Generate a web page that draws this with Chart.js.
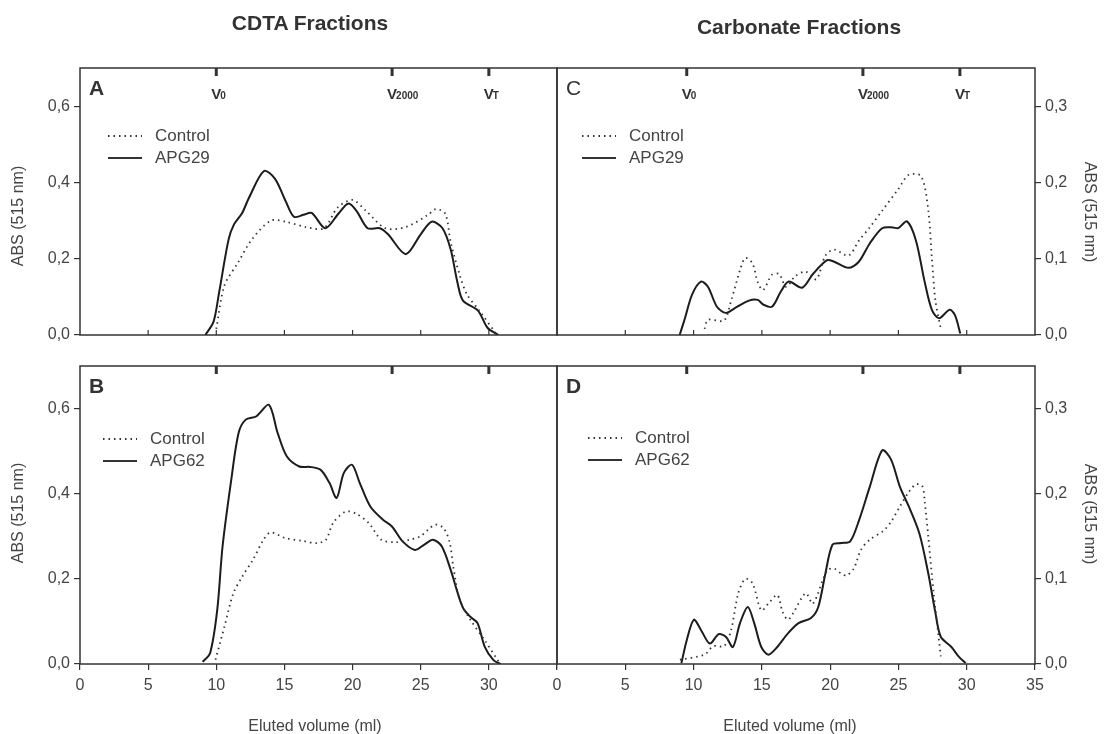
<!DOCTYPE html>
<html>
<head>
<meta charset="utf-8">
<script src="https://cdn.jsdelivr.net/npm/chart.js@4.4.1/dist/chart.umd.min.js"></script>
<style>
  body { margin: 0; background: #fff; }
  #wrap { position: relative; width: 1106px; height: 734px; overflow: hidden; font-family: "Liberation Sans", Arial, sans-serif; }
  #wrap canvas { position: absolute; left: 0; top: 0; }
  .txt { position: absolute; white-space: nowrap; color: #444; transform: translate(-50%, -50%); }
  .ttl { font-weight: bold; font-size: 21px; color: #333; }
  .ax { font-size: 16px; }
  .rl { transform: translate(-50%, -50%) rotate(-90deg); }
  .rr { transform: translate(-50%, -50%) rotate(90deg); }
</style>
</head>
<body>
<div id="wrap">
  <canvas id="cA" width="1106" height="734"></canvas>
  <canvas id="cB" width="1106" height="734"></canvas>
  <canvas id="cC" width="1106" height="734"></canvas>
  <canvas id="cD" width="1106" height="734"></canvas>
  <div class="txt ttl" style="left:310px;top:23px">CDTA Fractions</div>
  <div class="txt ttl" style="left:799px;top:27px">Carbonate Fractions</div>
  <div class="txt ax rl" style="left:18px;top:216px">ABS (515 nm)</div>
  <div class="txt ax rl" style="left:18px;top:513px">ABS (515 nm)</div>
  <div class="txt ax rr" style="left:1090px;top:212px">ABS (515 nm)</div>
  <div class="txt ax rr" style="left:1090px;top:514px">ABS (515 nm)</div>
  <div class="txt ax" style="left:315px;top:726px">Eluted volume (ml)</div>
  <div class="txt ax" style="left:790px;top:726px">Eluted volume (ml)</div>
</div>
<script>
// panel A - CDTA, APG29
const xA_ctrl = [10.0, 10.6, 11.6, 12.6, 14.0, 15.1, 16.6, 17.9, 18.9, 20.0, 21.0, 22.4, 23.9, 25.5, 26.1, 26.8, 27.2, 27.9, 28.4, 29.3, 30.5];
const yA_ctrl = [0.016, 0.13, 0.19, 0.25, 0.30, 0.297, 0.283, 0.28, 0.334, 0.354, 0.325, 0.28, 0.283, 0.314, 0.33, 0.318, 0.243, 0.153, 0.106, 0.064, 0.005];
const xA_apg = [9.2, 9.8, 10.2, 10.9, 11.3, 11.9, 12.4, 13.5, 14.3, 15.1, 15.7, 16.4, 17.0, 18.0, 19.0, 19.7, 20.3, 21.1, 22.0, 22.6, 23.9, 25.0, 25.8, 26.6, 27.2, 27.7, 28.1, 29.2, 29.9, 30.7];
const yA_apg = [0, 0.035, 0.11, 0.25, 0.29, 0.32, 0.36, 0.43, 0.41, 0.35, 0.31, 0.315, 0.32, 0.28, 0.32, 0.345, 0.325, 0.28, 0.28, 0.264, 0.212, 0.264, 0.297, 0.28, 0.224, 0.137, 0.09, 0.064, 0.019, 0];

// panel B - CDTA, APG62
const xB_ctrl = [9.94, 10.6, 11.25, 11.9, 12.69, 13.47, 13.99, 15.04, 16.35, 17.4, 18.05, 18.57, 19.49, 20.27, 21.19, 22.1, 23.15, 24.2, 24.98, 26.03, 26.68, 27.13, 27.39, 27.86, 28.64, 29.69, 30.73];
const yB_ctrl = [0.01, 0.088, 0.166, 0.205, 0.245, 0.292, 0.309, 0.296, 0.289, 0.284, 0.292, 0.331, 0.358, 0.353, 0.331, 0.292, 0.286, 0.292, 0.3, 0.327, 0.319, 0.285, 0.229, 0.151, 0.104, 0.056, 0.005];
const xB_apg = [9.0, 9.55, 10.07, 10.46, 11.1, 11.64, 12.16, 12.95, 13.86, 14.5, 15.17, 16.09, 16.87, 17.66, 18.31, 18.83, 19.36, 19.96, 20.53, 21.3, 22.23, 22.89, 23.67, 24.59, 25.24, 25.9, 26.55, 27.2, 27.72, 28.12, 28.64, 29.17, 29.69, 30.34, 30.87];
const yB_apg = [0.005, 0.026, 0.127, 0.276, 0.433, 0.543, 0.574, 0.582, 0.609, 0.543, 0.488, 0.464, 0.463, 0.456, 0.425, 0.39, 0.449, 0.468, 0.425, 0.37, 0.339, 0.323, 0.288, 0.268, 0.28, 0.292, 0.276, 0.221, 0.166, 0.131, 0.111, 0.096, 0.041, 0.009, 0];

// panel C - Carbonate, APG29
const xC_ctrl = [10.8, 11.06, 12.23, 12.75, 13.4, 13.79, 14.31, 14.7, 15.09, 15.74, 16.26, 16.78, 17.43, 18.21, 18.99, 19.65, 20.3, 21.34, 22.12, 22.9, 23.81, 24.98, 25.76, 26.67, 27.19, 27.45, 27.71, 28.1];
const yC_ctrl = [0.008, 0.02, 0.019, 0.045, 0.085, 0.101, 0.094, 0.069, 0.059, 0.079, 0.08, 0.063, 0.077, 0.083, 0.073, 0.104, 0.112, 0.104, 0.124, 0.141, 0.163, 0.191, 0.21, 0.208, 0.163, 0.1, 0.045, 0.008];
const xC_apg = [8.98, 9.37, 9.89, 10.54, 11.06, 11.71, 12.36, 13.0, 14.05, 14.7, 15.09, 15.74, 16.39, 16.97, 17.95, 18.74, 19.78, 20.3, 21.34, 22.1, 22.9, 23.81, 24.6, 24.98, 25.63, 26.28, 26.93, 27.45, 27.97, 28.75, 29.14, 29.53];
const yC_apg = [0, 0.022, 0.053, 0.07, 0.063, 0.037, 0.029, 0.035, 0.045, 0.046, 0.04, 0.037, 0.057, 0.07, 0.062, 0.08, 0.098, 0.096, 0.088, 0.096, 0.12, 0.14, 0.141, 0.14, 0.149, 0.124, 0.069, 0.033, 0.022, 0.033, 0.026, 0.002];

// panel D - Carbonate, APG62
const xD_ctrl = [9.0, 10.8, 11.45, 12.23, 12.75, 13.27, 13.79, 14.31, 14.96, 15.48, 16.13, 16.52, 16.91, 17.3, 18.21, 18.74, 19.78, 20.3, 20.82, 21.21, 21.73, 22.25, 22.9, 23.94, 24.46, 25.11, 25.76, 26.28, 26.75, 26.93, 27.19, 27.58, 27.97, 28.1];
const yD_ctrl = [0.005, 0.011, 0.021, 0.021, 0.04, 0.083, 0.1, 0.095, 0.063, 0.071, 0.081, 0.061, 0.052, 0.06, 0.083, 0.071, 0.11, 0.112, 0.106, 0.104, 0.112, 0.134, 0.146, 0.157, 0.167, 0.185, 0.202, 0.211, 0.209, 0.19, 0.149, 0.083, 0.028, 0.009];
const xD_apg = [9.11, 9.5, 10.02, 10.54, 11.19, 11.84, 12.36, 12.88, 13.4, 13.97, 14.44, 14.96, 15.48, 16.13, 16.91, 17.69, 18.6, 19.13, 19.65, 20.17, 20.82, 21.47, 22.12, 22.9, 23.81, 24.46, 25.11, 25.76, 26.54, 27.19, 27.71, 28.1, 28.88, 29.4, 29.92];
const yD_apg = [0.001, 0.028, 0.052, 0.04, 0.024, 0.035, 0.032, 0.02, 0.048, 0.067, 0.048, 0.02, 0.011, 0.02, 0.036, 0.048, 0.054, 0.067, 0.106, 0.14, 0.142, 0.144, 0.169, 0.208, 0.251, 0.24, 0.208, 0.185, 0.153, 0.106, 0.06, 0.032, 0.02, 0.009, 0.001];

// marker volumes (V0, V2000, VT)
const vMarksCDTA = [10.0, 22.9, 30.0];
const vMarksCarb = [9.5, 22.4, 29.5];
const vSubs = ['0', '2000', 'T'];

const FONT = '"Liberation Sans", Arial, sans-serif';
const pts = (xs, ys) => xs.map((x, i) => ({ x: x, y: ys[i] }));
const comma = v => Number(v).toFixed(1).replace('.', ',');

const decor = {
  id: 'decor',
  afterDraw(chart, args, o) {
    const { ctx, chartArea: a, scales: { x } } = chart;
    ctx.save();
    ctx.strokeStyle = '#333';
    ctx.fillStyle = '#333';
    ctx.lineWidth = 1.5;
    ctx.strokeRect(a.left, a.top, a.right - a.left, a.bottom - a.top);

    // small inward ticks on top panels
    if (o.innerTicks) {
      ctx.lineWidth = 1.2;
      [5, 10, 15, 20, 25, 30].forEach(v => {
        const px = x.getPixelForValue(v);
        ctx.beginPath(); ctx.moveTo(px, a.bottom); ctx.lineTo(px, a.bottom - 5); ctx.stroke();
      });
    }

    // V markers
    o.marks.forEach((v, i) => {
      const px = x.getPixelForValue(v);
      ctx.fillRect(px - 1.5, a.top, 3, 8);
      if (o.markLabels) {
        ctx.textBaseline = 'alphabetic';
        ctx.textAlign = 'left';
        ctx.font = 'bold 15px ' + FONT;
        ctx.fillText('V', px - 5, a.top + 31);
        const w = ctx.measureText('V').width;
        ctx.font = 'bold 10px ' + FONT;
        ctx.fillText(vSubs[i], px - 5 + w - 1, a.top + 31);
      }
    });

    // panel letter
    ctx.font = (o.letterBold ? 'bold ' : '') + '21px ' + FONT;
    ctx.textAlign = 'left';
    ctx.textBaseline = 'alphabetic';
    ctx.fillText(o.letter, a.left + 9, a.top + 27);

    // legend
    const lx = o.legX, ly = o.legY;
    ctx.lineWidth = 1.8;
    ctx.setLineDash([1.5, 4]);
    ctx.beginPath(); ctx.moveTo(lx, ly); ctx.lineTo(lx + 34, ly); ctx.stroke();
    ctx.setLineDash([]);
    ctx.beginPath(); ctx.moveTo(lx, ly + 22); ctx.lineTo(lx + 34, ly + 22); ctx.stroke();
    ctx.font = '17px ' + FONT;
    ctx.fillStyle = '#444';
    ctx.textBaseline = 'middle';
    ctx.fillText('Control', lx + 47, ly);
    ctx.fillText(o.label, lx + 47, ly + 22);
    ctx.restore();
  }
};

function makePanel(id, cfg) {
  const left = cfg.side === 'left';
  const bottom = cfg.row === 'bottom';
  const area = cfg.area;
  const yW = 60, xH = 30;
  const padding = {
    top: area.top,
    left: left ? area.left - yW : area.left,
    right: left ? 1106 - area.right : 1106 - area.right - yW,
    bottom: bottom ? 734 - area.bottom - xH : 734 - area.bottom
  };
  new Chart(document.getElementById(id), {
    type: 'line',
    data: {
      datasets: [
        {
          label: 'Control',
          data: pts(cfg.xc, cfg.yc),
          borderColor: '#333',
          borderWidth: 1.8,
          borderDash: [1.5, 4],
          pointRadius: 0,
          tension: 0.3
        },
        {
          label: cfg.label,
          data: pts(cfg.xa, cfg.ya),
          borderColor: '#1c1c1c',
          borderWidth: 2,
          pointRadius: 0,
          tension: 0.3
        }
      ]
    },
    options: {
      responsive: false,
      animation: false,
      events: [],
      layout: { padding: padding },
      plugins: {
        legend: { display: false },
        tooltip: { enabled: false },
        decor: {
          letter: cfg.letter, letterBold: cfg.letterBold !== false, label: cfg.label,
          legX: cfg.legX, legY: cfg.legY, marks: cfg.marks,
          markLabels: !bottom, innerTicks: !bottom
        }
      },
      scales: {
        x: {
          type: 'linear',
          min: 0, max: 35,
          display: bottom,
          afterFit: s => { s.height = xH; },
          ticks: {
            stepSize: 5,
            padding: 6,
            color: '#444',
            font: { family: FONT, size: 16 },
            callback: v => (left && v === 35) ? '' : String(v)
          },
          grid: { drawOnChartArea: false, drawTicks: true, tickLength: 6, color: '#333', lineWidth: 1.2 },
          border: { display: false }
        },
        y: {
          position: left ? 'left' : 'right',
          min: 0, max: cfg.ymax,
          afterFit: s => { s.width = yW; },
          ticks: {
            stepSize: cfg.ystep,
            includeBounds: false,
            padding: 4,
            color: '#444',
            font: { family: FONT, size: 16 },
            callback: comma
          },
          grid: { drawOnChartArea: false, drawTicks: true, tickLength: 6, color: '#333', lineWidth: 1.2 },
          border: { display: false }
        }
      }
    },
    plugins: [decor]
  });
}

makePanel('cA', { side: 'left', row: 'top', area: { left: 80, right: 557, top: 68, bottom: 365 },
  xc: xA_ctrl, yc: yA_ctrl, xa: xA_apg, ya: yA_apg, label: 'APG29', letter: 'A',
  ymax: 0.7, ystep: 0.2, marks: vMarksCDTA, legX: 108, legY: 136 });
makePanel('cB', { side: 'left', row: 'bottom', area: { left: 80, right: 557, top: 366, bottom: 664 },
  xc: xB_ctrl, yc: yB_ctrl, xa: xB_apg, ya: yB_apg, label: 'APG62', letter: 'B',
  ymax: 0.7, ystep: 0.2, marks: vMarksCDTA, legX: 103, legY: 439 });
makePanel('cC', { side: 'right', row: 'top', area: { left: 557, right: 1035, top: 68, bottom: 365 },
  xc: xC_ctrl, yc: yC_ctrl, xa: xC_apg, ya: yC_apg, label: 'APG29', letter: 'C', letterBold: false,
  ymax: 0.35, ystep: 0.1, marks: vMarksCarb, legX: 582, legY: 136 });
makePanel('cD', { side: 'right', row: 'bottom', area: { left: 557, right: 1035, top: 366, bottom: 664 },
  xc: xD_ctrl, yc: yD_ctrl, xa: xD_apg, ya: yD_apg, label: 'APG62', letter: 'D',
  ymax: 0.35, ystep: 0.1, marks: vMarksCarb, legX: 588, legY: 438 });
</script>
</body>
</html>
